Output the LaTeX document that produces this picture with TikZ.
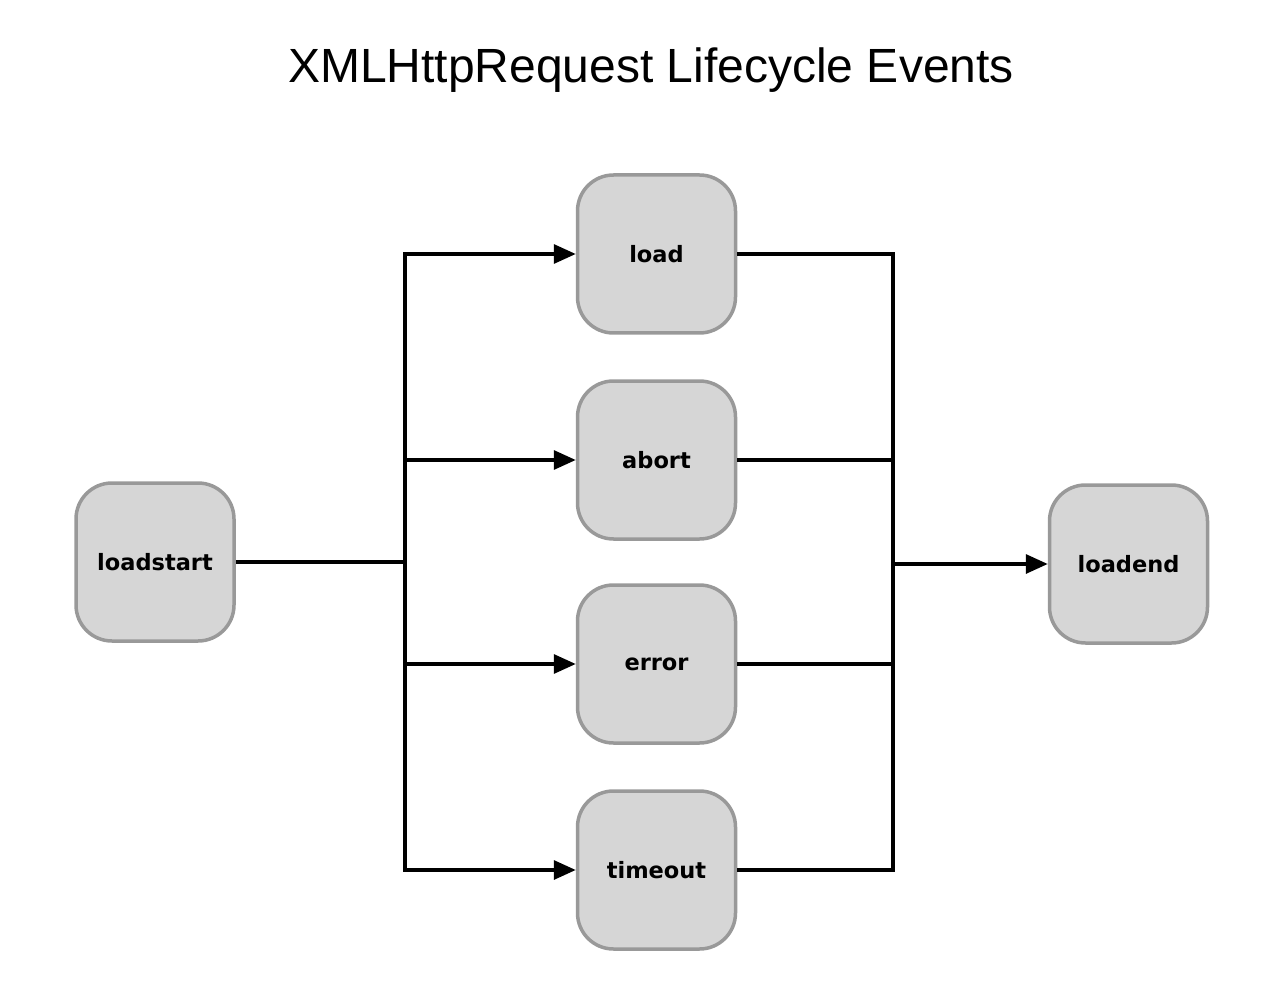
\documentclass[tikz,border=0pt]{standalone}
\usepackage{fontspec}
\setmainfont{Liberation Sans}
\newfontfamily\boxfont{DejaVu Sans}
\usetikzlibrary{arrows.meta}
\definecolor{boxfill}{HTML}{D6D6D6}
\definecolor{boxline}{HTML}{999999}
\begin{document}
\begin{tikzpicture}[x=1pt,y=-1pt,
  evbox/.style={draw=boxline, fill=boxfill, line width=3.5pt, rounded corners=36pt,
    minimum width=158pt, minimum height=158pt, inner sep=0pt,
    font=\boxfont\bfseries\fontsize{22.5}{26}\selectfont},
  conn/.style={line width=3.3pt, black},
  arr/.style={conn, -{Triangle[length=22pt,width=19pt]}}]
\useasboundingbox (0,0) rectangle (1280,1000);
\node[font=\fontsize{48}{54}\selectfont] (title) at (651,70) {XMLHttpRequest Lifecycle Events};
\node[evbox] (loadstart) at (155,562) {loadstart};
\node[evbox] (load) at (656.5,254) {load};
\node[evbox] (abort) at (656.5,460) {abort};
\node[evbox] (error) at (656.5,664) {error};
\node[evbox] (timeout) at (656.5,870) {timeout};
\node[evbox] (loadend) at (1128.5,564) {loadend};
\coordinate (jl) at (405,562);
\coordinate (jr) at (893,564);
\draw[conn] (loadstart.east) -- (jl);
\foreach \n in {load,abort,error,timeout}{
  \draw[arr] (jl) |- (\n.west);
  \draw[conn] (\n.east) -| (jr);
}
\draw[arr] (jr) -- (loadend.west);
\end{tikzpicture}
\end{document}
